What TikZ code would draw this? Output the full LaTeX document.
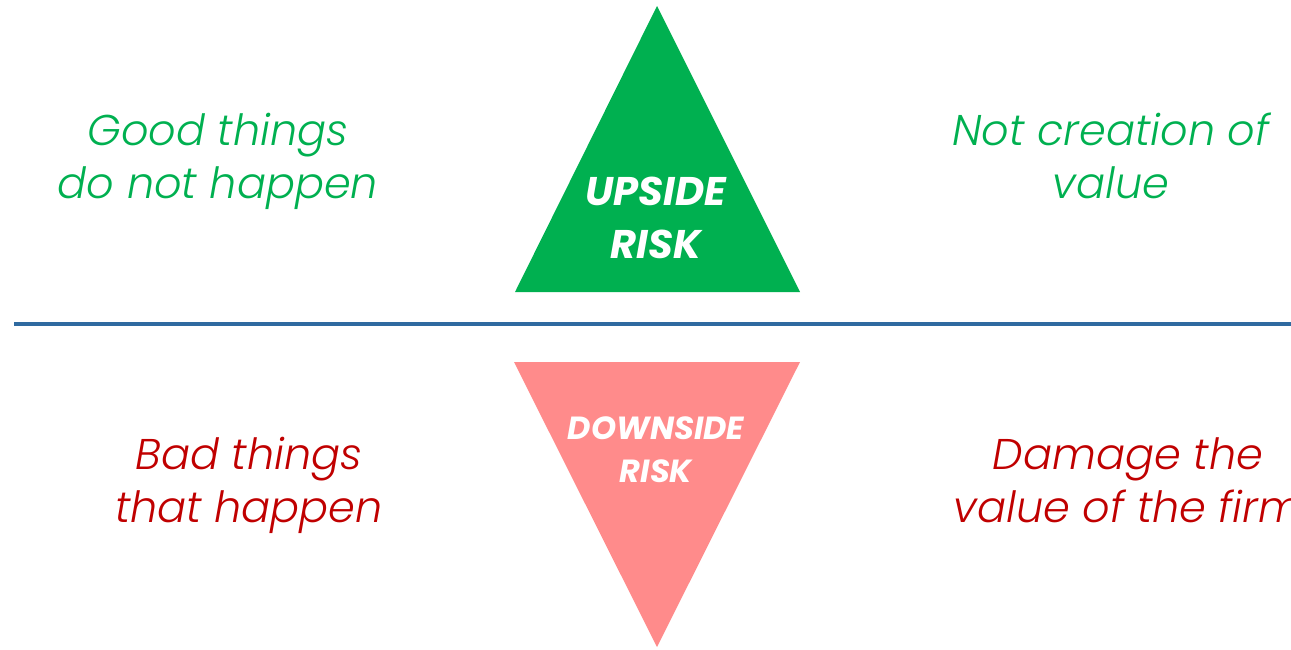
\documentclass[tikz,border=0pt]{standalone}
\usepackage{fontspec}
\setmainfont{Poppins}
\newfontfamily\notefont{Poppins Light}
\usepackage{tikz}
\usetikzlibrary{positioning}
\definecolor{upgreen}{HTML}{00B050}
\definecolor{downred}{HTML}{C00000}
\definecolor{downpink}{HTML}{FF8B8B}
\definecolor{axisblue}{HTML}{2F6AA0}

\begin{document}
\begin{tikzpicture}[x=1pt,y=-1pt,
    upnote/.style={text=upgreen,font=\notefont\itshape\fontsize{43}{53}\selectfont,align=center,anchor=base},
    downnote/.style={text=downred,font=\notefont\itshape\fontsize{43}{53}\selectfont,align=center,anchor=base},
    risklabel/.style={text=white,align=center,anchor=base,inner sep=0pt}]
    \useasboundingbox (0,0) rectangle (1291,649);
    % axis
    \coordinate (axisL) at (14,324);
    \coordinate (axisR) at (1291,324);
    \draw [axisblue,line width=4pt] (axisL) -- (axisR);
    % triangles
    \coordinate (upTop) at (657,6);
    \coordinate (upL) at (515,292);
    \coordinate (upR) at (800,292);
    \fill [upgreen] (upTop) -- (upL) -- (upR) -- cycle;
    \coordinate (dnBot) at (657,647);
    \coordinate (dnL) at (514,362);
    \coordinate (dnR) at (800,362);
    \fill [downpink] (dnBot) -- (dnL) -- (dnR) -- cycle;
    \node [risklabel,font=\bfseries\itshape\fontsize{40}{53}\selectfont] (upside) at (656,258) {UPSIDE\\RISK};
    \node [risklabel,font=\bfseries\itshape\fontsize{32}{43}\selectfont] (downside) at (656,482) {DOWNSIDE\\RISK};
    % side notes (base = last line)
    \node [upnote] (goodthings) at (218,198) {Good things\\do not happen};
    \node [upnote] (notvalue) at (1111,198) {Not creation of\\value};
    \node [downnote] (badthings) at (249,522) {Bad things\\that happen};
    \node [downnote] (damage) at (1128,522) {Damage the\\value of the firm};
\end{tikzpicture}
\end{document}
